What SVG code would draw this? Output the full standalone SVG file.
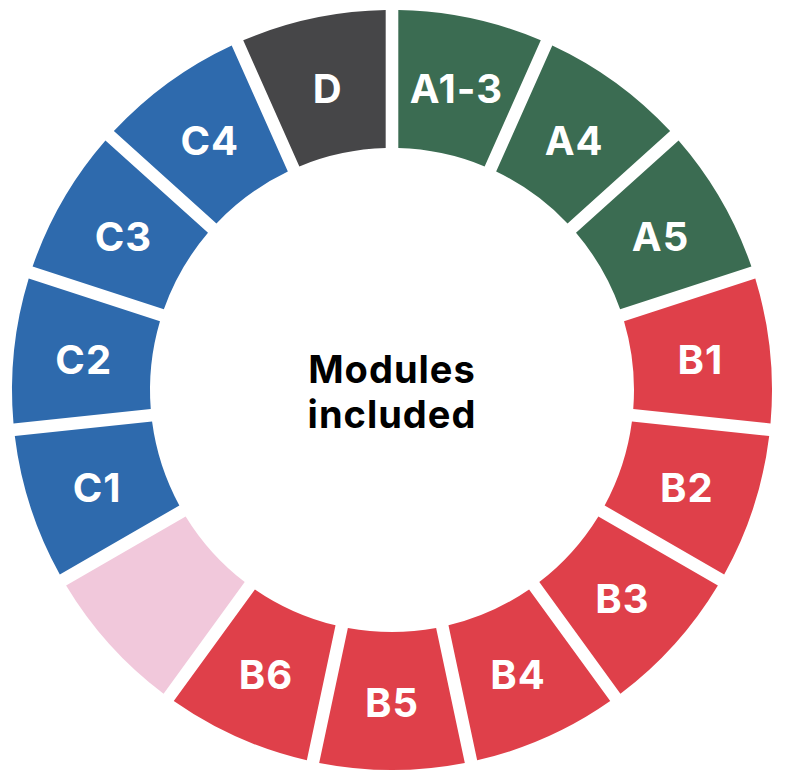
<svg xmlns="http://www.w3.org/2000/svg" xmlns:xlink="http://www.w3.org/1999/xlink" width="786" height="780" viewBox="0 0 786 780">
<style>
.lbl{font-family:Inter,"Liberation Sans",sans-serif;font-weight:700;font-size:40px;letter-spacing:1px;fill:#fff;text-anchor:middle}
.ctr{font-family:Inter,"Liberation Sans",sans-serif;font-weight:700;font-size:38px;letter-spacing:1px;fill:#000;text-anchor:middle}
.g{fill:#3b6c52}.r{fill:#df404a}.b{fill:#2e6aad}.d{fill:#464648}.p{fill:#f1c8db}
</style>
<defs>
<path id="seg" d="M -72.83,-372.95 A 380 380 0 0 1 72.83,-372.95 L 44.13,-237.94 A 242 242 0 0 0 -44.13,-237.94 Z"/>
</defs>
<rect width="786" height="780" fill="#fff"/>
<g id="A1-3"><use xlink:href="#seg" class="g" transform="translate(392,390) rotate(12)"/><text class="lbl" x="456.4" y="103">A1-3</text></g>
<g id="A4"><use xlink:href="#seg" class="g" transform="translate(392,390) rotate(36)"/><text class="lbl" x="574.2" y="155">A4</text></g>
<g id="A5"><use xlink:href="#seg" class="g" transform="translate(392,390) rotate(60)"/><text class="lbl" x="660.5" y="251">A5</text></g>
<g id="B1"><use xlink:href="#seg" class="r" transform="translate(392,390) rotate(84)"/><text class="lbl" x="700.3" y="374">B1</text></g>
<g id="B2"><use xlink:href="#seg" class="r" transform="translate(392,390) rotate(108)"/><text class="lbl" x="686.8" y="502">B2</text></g>
<g id="B3"><use xlink:href="#seg" class="r" transform="translate(392,390) rotate(132)"/><text class="lbl" x="622.4" y="613">B3</text></g>
<g id="B4"><use xlink:href="#seg" class="r" transform="translate(392,390) rotate(156)"/><text class="lbl" x="518.1" y="689">B4</text></g>
<g id="B5"><use xlink:href="#seg" class="r" transform="translate(392,390) rotate(180)"/><text class="lbl" x="392" y="717">B5</text></g>
<g id="B6"><use xlink:href="#seg" class="r" transform="translate(392,390) rotate(204)"/><text class="lbl" x="265.9" y="689">B6</text></g>
<g id="blank"><use xlink:href="#seg" class="p" transform="translate(392,390) rotate(228)"/></g>
<g id="C1"><use xlink:href="#seg" class="b" transform="translate(392,390) rotate(252)"/><text class="lbl" x="97.2" y="502">C1</text></g>
<g id="C2"><use xlink:href="#seg" class="b" transform="translate(392,390) rotate(276)"/><text class="lbl" x="83.7" y="374">C2</text></g>
<g id="C3"><use xlink:href="#seg" class="b" transform="translate(392,390) rotate(300)"/><text class="lbl" x="123.5" y="251">C3</text></g>
<g id="C4"><use xlink:href="#seg" class="b" transform="translate(392,390) rotate(324)"/><text class="lbl" x="209.8" y="155">C4</text></g>
<g id="D"><use xlink:href="#seg" class="d" transform="translate(392,390) rotate(348)"/><text class="lbl" x="327.6" y="103">D</text></g>
<g id="center"><text class="ctr" x="392" y="383">Modules</text><text class="ctr" x="392" y="428">included</text></g>
<g id="connectors"/>
</svg>
